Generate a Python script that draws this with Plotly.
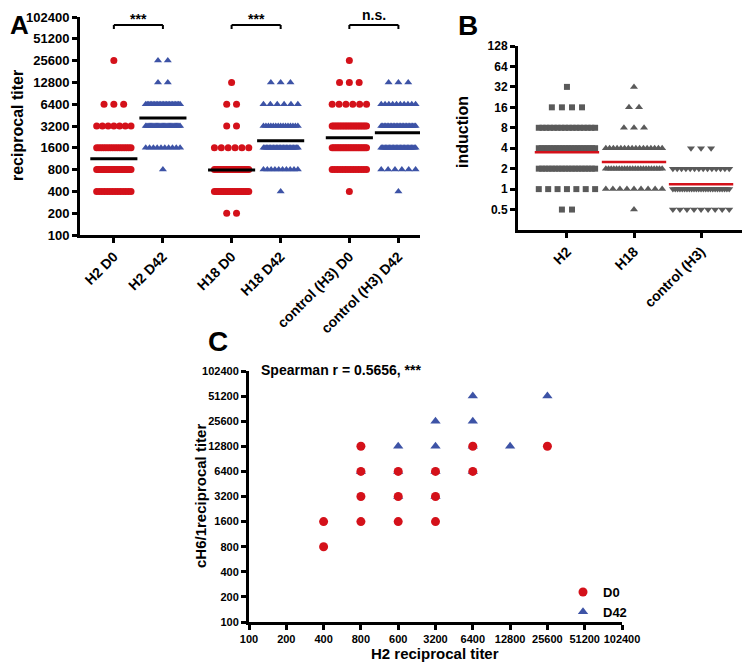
import numpy as np
import plotly.graph_objects as go

FONT = "Liberation Sans, Arial, Helvetica, sans-serif"
RED = "#d4111a"
BLUE = "#3d53a6"
GRAY = "#5a5a5a"

# ---------------- Panel A data ----------------
groups_A = ["H2 D0", "H2 D42", "H18 D0", "H18 D42", "control (H3) D0", "control (H3) D42"]
pos_A = [0, 1, 2.4, 3.4, 4.8, 5.8]
titer_levels = [200, 400, 800, 1600, 3200, 6400, 12800, 25600]
h2_d0_counts = [0, 14, 22, 16, 7, 3, 0, 1]
h2_d42_counts = [0, 0, 1, 10, 30, 24, 2, 2]
h18_d0_counts = [2, 20, 24, 6, 2, 2, 1, 0]
h18_d42_counts = [0, 1, 10, 25, 15, 6, 3, 0]
ctrl_d0_counts = [0, 1, 14, 22, 22, 6, 3, 1]
ctrl_d42_counts = [0, 1, 6, 26, 24, 10, 3, 0]
means_A = [1130, 4130, 790, 2000, 2200, 2580]
symbols_A = ["circle", "triangle-up"] * 3
colors_A = [RED, BLUE] * 3
counts_A = [h2_d0_counts, h2_d42_counts, h18_d0_counts, h18_d42_counts, ctrl_d0_counts, ctrl_d42_counts]
ticks_A = [100, 200, 400, 800, 1600, 3200, 6400, 12800, 25600, 51200, 102400]
sig_labels = ["***", "***", "n.s."]

# ---------------- Panel B data ----------------
groups_B = ["H2", "H18", "control (H3)"]
pos_B = [0, 1, 2]
induction_levels = [0.5, 1, 2, 4, 8, 16, 32]
h2_ind_counts = [2, 7, 18, 20, 16, 4, 1]
h18_ind_counts = [1, 9, 22, 16, 3, 2, 1]
ctrl_ind_counts = [9, 25, 14, 3, 0, 0, 0]
means_B = [3.5, 2.5, 1.18]
symbols_B = ["square", "triangle-up", "triangle-down"]
counts_B = [h2_ind_counts, h18_ind_counts, ctrl_ind_counts]
ticks_B = [0.5, 1, 2, 4, 8, 16, 32, 64, 128]
baseline_B = 1

# ---------------- Panel C data ----------------
c_d0_x = [400, 400, 800, 800, 800, 800, 1600, 1600, 1600, 3200, 3200, 3200, 6400, 6400, 25600]
c_d0_y = [1600, 800, 12800, 6400, 3200, 1600, 6400, 3200, 1600, 6400, 3200, 1600, 12800, 6400, 12800]
c_d42_x = [800, 1600, 1600, 1600, 3200, 3200, 3200, 3200, 6400, 6400, 6400, 6400, 12800, 25600]
c_d42_y = [6400, 12800, 6400, 3200, 25600, 12800, 6400, 3200, 51200, 25600, 12800, 6400, 12800, 51200]
ticks_C = [100, 200, 400, 800, 1600, 3200, 6400, 12800, 25600, 51200, 102400]
ticktext_Cx = ["100", "200", "400", "800", "600", "3200", "6400", "12800", "25600", "51200", "102400"]


def swarm(center, n, step, maxspan):
    if n <= 1:
        return [center] * n
    span = min((n - 1) * step, maxspan)
    return list(center + np.linspace(-span / 2, span / 2, n))


fig = go.Figure()

# Panel A scatter
for g, p, cnts, sym, col in zip(groups_A, pos_A, counts_A, symbols_A, colors_A):
    xs, ys = [], []
    for lvl, n in zip(titer_levels, cnts):
        xs += swarm(p, n, 0.2, 0.7)
        ys += [lvl] * n
    fig.add_trace(go.Scatter(x=xs, y=ys, mode="markers", xaxis="x", yaxis="y",
                             marker=dict(symbol=sym, size=7, color=col, line=dict(width=0)),
                             showlegend=False, hoverinfo="skip"))
for p, m in zip(pos_A, means_A):
    fig.add_trace(go.Scatter(x=[p - 0.48, p + 0.48], y=[m, m], mode="lines", xaxis="x", yaxis="y",
                             line=dict(color="black", width=3), showlegend=False, hoverinfo="skip"))

# Panel B scatter
for g, p, cnts, sym in zip(groups_B, pos_B, counts_B, symbols_B):
    xs, ys = [], []
    for lvl, n in zip(induction_levels, cnts):
        xs += swarm(p, n, 0.15, 0.84)
        ys += [lvl] * n
    fig.add_trace(go.Scatter(x=xs, y=ys, mode="markers", xaxis="x2", yaxis="y2",
                             marker=dict(symbol=sym, size=7 if sym != "square" else 6, color=GRAY,
                                         line=dict(width=0)),
                             showlegend=False, hoverinfo="skip"))
for p, m in zip(pos_B, means_B):
    fig.add_trace(go.Scatter(x=[p - 0.48, p + 0.48], y=[m, m], mode="lines", xaxis="x2", yaxis="y2",
                             line=dict(color=RED, width=2.5), showlegend=False, hoverinfo="skip"))

# Panel C scatter
fig.add_trace(go.Scatter(x=c_d42_x, y=c_d42_y, mode="markers", name="D42", xaxis="x3", yaxis="y3",
                         marker=dict(symbol="triangle-up", size=9, color=BLUE, line=dict(width=0)),
                         legendrank=2, hoverinfo="skip"))
fig.add_trace(go.Scatter(x=c_d0_x, y=c_d0_y, mode="markers", name="D0", xaxis="x3", yaxis="y3",
                         marker=dict(symbol="circle", size=9, color=RED, line=dict(width=0)),
                         legendrank=1, hoverinfo="skip"))

# The page body has an 8px margin, so the figure is drawn 8px smaller and
# positions (given in window pixels) are shifted accordingly.
OFF = 8
W, H = 750 - OFF, 663 - OFF


def px(x):
    return (x - OFF) / W


def py(y):
    return 1 - (y - OFF) / H


axis_common = dict(showline=True, linecolor="black", linewidth=3, ticks="outside", ticklen=5,
                   tickwidth=3, tickcolor="black", showgrid=False, zeroline=False, automargin=False)

shapes = []
annotations = []

# significance brackets (panel A)
for i, lab in enumerate(sig_labels):
    a, b = pos_A[2 * i], pos_A[2 * i + 1]
    yb, ye = py(25), py(29)
    for (x0, y0, x1, y1) in [(a, yb, b, yb), (a, yb, a, ye), (b, yb, b, ye)]:
        shapes.append(dict(type="line", xref="x", yref="paper", x0=x0, x1=x1, y0=y0, y1=y1,
                           line=dict(color="black", width=2)))
    annotations.append(dict(x=(a + b) / 2, xref="x", y=py(29) if lab == "***" else py(25), yref="paper",
                            text=lab, showarrow=False, yanchor="bottom",
                            font=dict(family=FONT, size=14, color="black", weight="bold")))

# dotted line at induction 1 (panel B); shape coordinates on a log axis are log10 values
shapes.append(dict(type="line", xref="x2 domain", yref="y2", x0=0, x1=1,
                   y0=np.log10(baseline_B), y1=np.log10(baseline_B), layer="below",
                   line=dict(color="#222222", width=1.2, dash="dot")))

# panel letters
for txt, x, y, sz in [("A", 8, 8, 26), ("B", 456, 2, 28), ("C", 206, 324, 28)]:
    annotations.append(dict(x=px(max(x, OFF)), y=py(max(y, OFF)), xref="paper", yref="paper", text=txt,
                            showarrow=False, xanchor="left", yanchor="top",
                            font=dict(family=FONT, size=sz, color="black", weight="bold")))

# axis titles
for txt, x, y, ang, sz in [("reciprocal titer", 18, 126, -90, 16),
                           ("induction", 462, 132, -90, 16),
                           ("cH6/1reciprocal titer", 200, 496, -90, 15),
                           ("H2 reciprocal titer", 435, 653, 0, 15)]:
    annotations.append(dict(x=px(x), y=py(y), xref="paper", yref="paper", text=txt, showarrow=False,
                            xanchor="center", yanchor="middle", textangle=ang,
                            font=dict(family=FONT, size=sz, color="black", weight="bold")))

annotations.append(dict(x=px(259), y=py(370), xref="paper", yref="paper",
                        text="Spearman r = 0.5656, ***", showarrow=False, xanchor="left", yanchor="middle",
                        font=dict(family=FONT, size=14, color="black", weight="bold")))

fig.update_layout(
    template="none",
    width=W, height=H, margin=dict(l=0, r=0, t=0, b=0, pad=0, autoexpand=False),
    paper_bgcolor="white", plot_bgcolor="white",
    font=dict(family=FONT, color="black"),
    xaxis=dict(domain=[px(80), px(420)], range=[-0.69, 6.24], tickvals=pos_A, ticktext=groups_A,
               tickangle=-45, anchor="y", tickfont=dict(family=FONT, size=14, weight="bold"), **axis_common),
    yaxis=dict(domain=[py(235), py(17)], type="log", range=[2, np.log10(102400)], tickvals=ticks_A,
               ticktext=[str(t) for t in ticks_A], anchor="x",
               tickfont=dict(family=FONT, size=13, weight="bold"), **axis_common),
    xaxis2=dict(domain=[px(518), 1.0], range=[-0.73, 2.73], tickvals=pos_B, ticktext=groups_B,
                tickangle=-45, anchor="y2", tickfont=dict(family=FONT, size=14, weight="bold"), **axis_common),
    yaxis2=dict(domain=[py(230), py(46)], type="log", range=[np.log10(0.25), np.log10(128)], tickvals=ticks_B,
                ticktext=[("%g" % t) for t in ticks_B], anchor="x2",
                tickfont=dict(family=FONT, size=12, weight="bold"), **axis_common),
    xaxis3=dict(domain=[px(249), px(622)], type="log", range=[2, np.log10(102400)], tickvals=ticks_C,
                ticktext=ticktext_Cx, tickangle=0, anchor="y3",
                tickfont=dict(family=FONT, size=11, weight="bold"), **axis_common),
    yaxis3=dict(domain=[py(622), py(371)], type="log", range=[2, np.log10(102400)], tickvals=ticks_C,
                ticktext=[str(t) for t in ticks_C], anchor="x3",
                tickfont=dict(family=FONT, size=11, weight="bold"), **axis_common),
    shapes=shapes,
    annotations=annotations,
    showlegend=True,
    legend=dict(x=px(563), y=py(577), xanchor="left", yanchor="top", bgcolor="rgba(0,0,0,0)",
                font=dict(family=FONT, size=13, color="black", weight="bold"), itemwidth=30,
                tracegroupgap=0, borderwidth=0),
)

fig.write_html("out.html")
